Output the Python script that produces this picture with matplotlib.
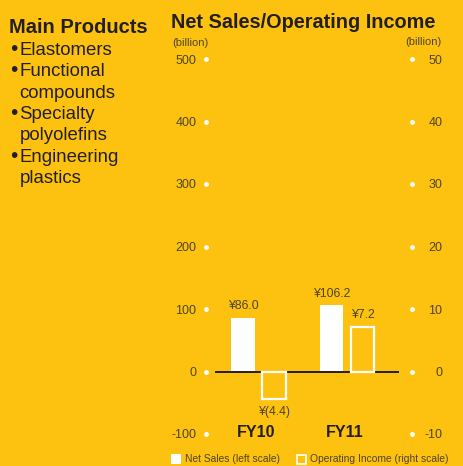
import matplotlib.pyplot as plt
from matplotlib.patches import Rectangle
import numpy as np

# Data
categories = ['FY10', 'FY11']
net_sales = [86.0, 106.2]          # billion yen, left scale
op_income = [-4.4, 7.2]            # billion yen, right scale
left_ticks = [-100, 0, 100, 200, 300, 400, 500]
right_ticks = [-10, 0, 10, 20, 30, 40, 50]
products = ['Elastomers', 'Functional\ncompounds', 'Specialty\npolyolefins', 'Engineering\nplastics']

BG = '#fdc210'
DARK = '#231f20'
NUM = '#4f4426'
SANS = ['Liberation Sans', 'DejaVu Sans']
plt.rcParams['font.family'] = SANS

W, H = 463, 466
fig = plt.figure(figsize=(W / 100, H / 100), dpi=100, facecolor=BG)

def px(x, y):
    return x / W, 1 - y / H

# axes placed in pixel terms: left spine x=206, right x=412, -100 at y=434, 500 at y=59
ax = fig.add_axes([206 / W, (H - 434) / H, 206 / W, (434 - 59) / H])
ax.set_facecolor('none')
ax2 = ax.twinx()
for a in (ax, ax2):
    for s in a.spines.values():
        s.set_visible(False)
ax.set_ylim(-100, 500)
ax2.set_ylim(-10, 50)
ax.set_xlim(-0.593, 1.734)
ax.set_xticks([])

x = np.arange(len(categories))
off, bw = 0.175, 0.27
ax.bar(x - off, net_sales, width=bw, color='white', zorder=3)
ax2.bar(x + off, op_income, width=bw, facecolor='none', edgecolor='white',
        linewidth=1.6, zorder=3)
ax.axhline(0, xmin=0.049, xmax=0.932, color=DARK, lw=1.4, zorder=4)

# value labels
for xi, v in zip(x, net_sales):
    ax.annotate(f'¥{v:.1f}', (xi - off, v), xytext=(0, 4), textcoords='offset points',
                ha='center', va='bottom', fontsize=8.8, color=NUM)
for xi, v in zip(x, op_income):
    txt = f'¥({abs(v):.1f})' if v < 0 else f'¥{v:.1f}'
    ax2.annotate(txt, (xi + off, v), xytext=(0, -5 if v < 0 else 4),
                 textcoords='offset points', ha='center',
                 va='top' if v < 0 else 'bottom', fontsize=8.8, color=NUM)

# ticks: labels with white dots
ax.set_yticks(left_ticks)
ax.set_yticklabels([str(t) for t in left_ticks])
ax2.set_yticks(right_ticks)
ax2.set_yticklabels([str(t) for t in right_ticks])
ax.tick_params(axis='y', length=0, pad=7, labelsize=9, labelcolor=NUM)
ax2.tick_params(axis='y', length=0, pad=22, labelsize=9, labelcolor=NUM)
for lab in ax2.get_yticklabels():
    lab.set_ha('right')
ax.scatter([0] * len(left_ticks), left_ticks, s=6, color='white',
           transform=ax.get_yaxis_transform(), clip_on=False, zorder=5)
ax2.scatter([1] * len(right_ticks), right_ticks, s=6, color='white',
            transform=ax2.get_yaxis_transform(), clip_on=False, zorder=5)

# category labels
for xi, c in zip(x, categories):
    ax.text(xi - 0.03, -97, c, ha='center', va='center', fontsize=11.5,
            fontweight='bold', color=DARK)

# units
fig.text(*px(172, 43), '(billion)', ha='left', va='center', fontsize=8, color=NUM)
fig.text(*px(442, 42), '(billion)', ha='right', va='center', fontsize=8, color=NUM)

# titles
fig.text(*px(171, 28), 'Net Sales/Operating Income', ha='left', va='baseline',
         fontsize=14.3, fontweight='bold', color=DARK)
fig.text(*px(9, 33), 'Main Products', ha='left', va='baseline',
         fontsize=14.5, fontweight='bold', color=DARK)

y = 55
for p in products:
    lines = p.split('\n')
    fig.text(*px(14, y), '•', ha='center', va='baseline', fontsize=15, color=DARK)
    for ln in lines:
        fig.text(*px(19.5, y), ln, ha='left', va='baseline', fontsize=13.4, color=DARK)
        y += 21.3

# legend
fig.patches.append(Rectangle(px(171, 464), 10 / W, 10 / H, transform=fig.transFigure,
                             facecolor='white', edgecolor='none'))
fig.text(*px(185, 459.5), 'Net Sales (left scale)', ha='left', va='center', fontsize=7.4,
         color=NUM)
fig.patches.append(Rectangle(px(296.5, 463.5), 9 / W, 9 / H, transform=fig.transFigure,
                             facecolor='none', edgecolor='white', lw=1.2))
fig.text(*px(310, 459.5), 'Operating Income (right scale)', ha='left', va='center', fontsize=7.4,
         color=NUM)

fig.savefig('out.png', dpi=100, facecolor=BG)
